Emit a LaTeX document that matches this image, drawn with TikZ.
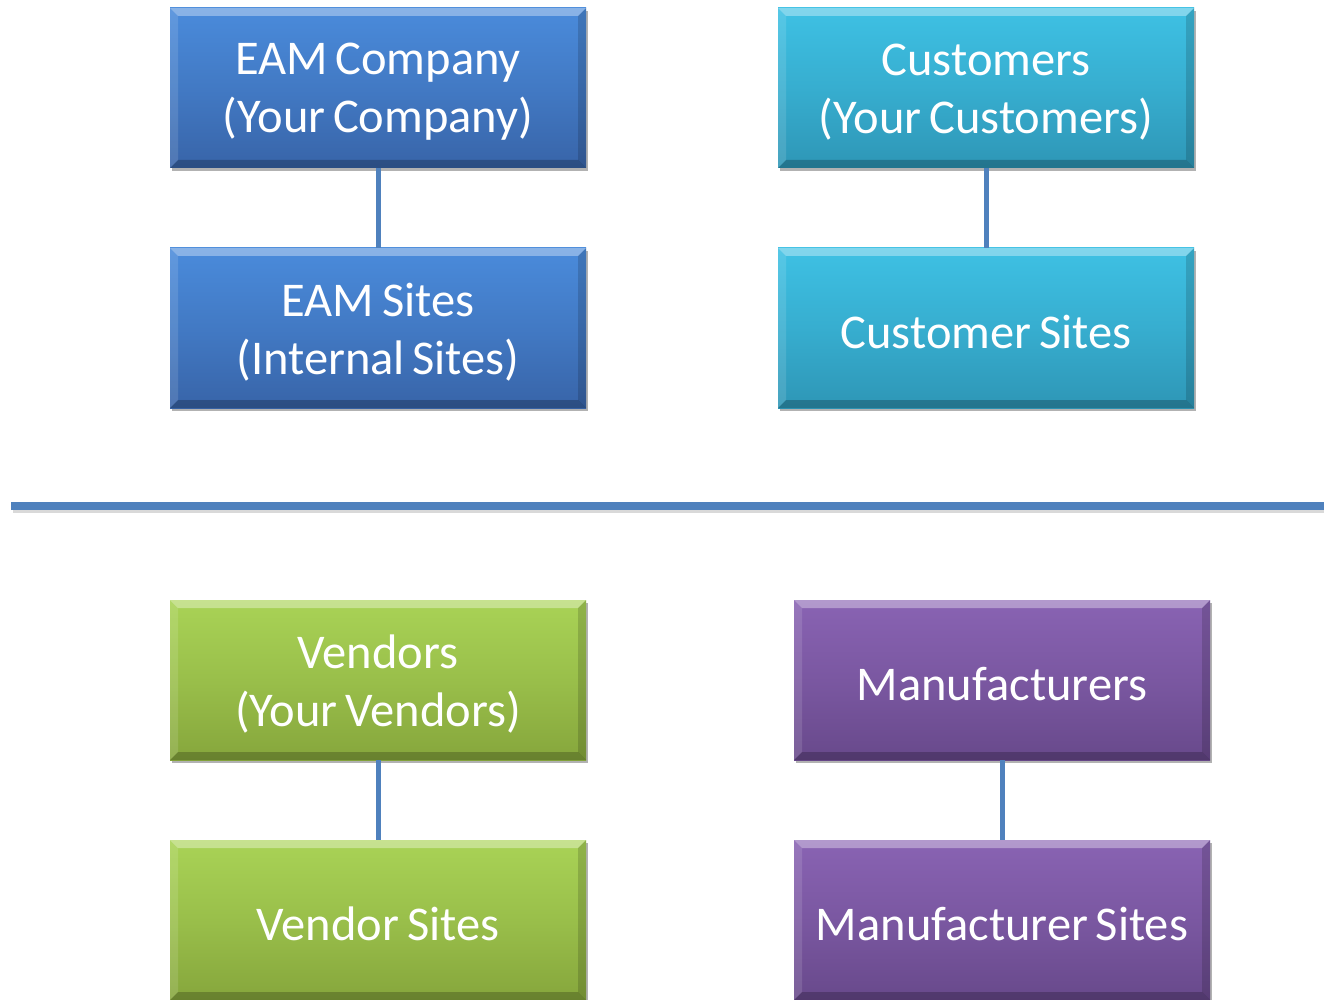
\documentclass[tikz,border=0pt]{standalone}
\usepackage{fontspec}
\setmainfont{Carlito}[WordSpace=0.7]
\usetikzlibrary{shadows}
\definecolor{linkblue}{RGB}{79,129,189}
\definecolor{blueT}{RGB}{74,139,219}
\definecolor{blueB}{RGB}{56,100,168}
\definecolor{cyanT}{RGB}{62,193,228}
\definecolor{cyanB}{RGB}{46,150,182}
\definecolor{greenT}{RGB}{169,211,86}
\definecolor{greenB}{RGB}{134,166,60}
\definecolor{purpT}{RGB}{137,99,179}
\definecolor{purpB}{RGB}{104,73,139}
\tikzset{
  boxtext/.style={align=center, text=white, inner sep=0pt, yshift=-4pt,
    font=\fontsize{48.5}{58}\selectfont},
  bevelbox/.style n args={3}{rectangle, minimum width=416pt, minimum height=160pt,
    inner sep=0pt,
    top color=#1, bottom color=#2, middle color=#1!55!#2,
    drop shadow={shadow xshift=2pt, shadow yshift=-3pt, opacity=0.3, fill=black},
    label={[boxtext]center:{#3}},
    path picture={
      \fill[white,opacity=0.35] (path picture bounding box.north west) -- (path picture bounding box.north east)
        -- ([xshift=-8pt,yshift=-8pt]path picture bounding box.north east) -- ([xshift=8pt,yshift=-8pt]path picture bounding box.north west) -- cycle;
      \fill[white,opacity=0.12] (path picture bounding box.north west) -- ([xshift=8pt,yshift=-8pt]path picture bounding box.north west)
        -- ([xshift=8pt,yshift=8pt]path picture bounding box.south west) -- (path picture bounding box.south west) -- cycle;
      \fill[black,opacity=0.15] (path picture bounding box.north east) -- ([xshift=-8pt,yshift=-8pt]path picture bounding box.north east)
        -- ([xshift=-8pt,yshift=8pt]path picture bounding box.south east) -- (path picture bounding box.south east) -- cycle;
      \fill[black,opacity=0.22] (path picture bounding box.south west) -- ([xshift=8pt,yshift=8pt]path picture bounding box.south west)
        -- ([xshift=-8pt,yshift=8pt]path picture bounding box.south east) -- (path picture bounding box.south east) -- cycle;
    }},
  conn/.style={draw=linkblue, line width=5pt},
  divider/.style={draw=linkblue, line width=8pt},
  dividershadow/.style={draw=black, opacity=0.15, line width=8pt}
}
\begin{document}
\begin{tikzpicture}[x=1pt,y=-1pt]
\useasboundingbox (0,0) rectangle (1324,1000);
\clip (0,0) rectangle (1324,1000);
\fill[white] (0,0) rectangle (1324,1000);

\node[bevelbox={blueT}{blueB}{EAM Company\\(Your Company)}] (eamc) at (378,88) {};
\node[bevelbox={blueT}{blueB}{EAM Sites\\(Internal Sites)}] (eams) at (378,328) {};
\node[bevelbox={cyanT}{cyanB}{Customers\\(Your Customers)}] (cust) at (986,88) {};
\node[bevelbox={cyanT}{cyanB}{Customer Sites}] (custs) at (986,328) {};
\node[bevelbox={greenT}{greenB}{Vendors\\(Your Vendors)}] (vend) at (378,680) {};
\node[bevelbox={greenT}{greenB}{Vendor Sites}] (vends) at (378,920) {};
\node[bevelbox={purpT}{purpB}{Manufacturers}] (manu) at (1002,680) {};
\node[bevelbox={purpT}{purpB}{Manufacturer Sites}] (manus) at (1002,920) {};

\draw[conn] (eamc.south) -- (eams.north);
\draw[conn] (cust.south) -- (custs.north);
\draw[conn] (vend.south) -- (vends.north);
\draw[conn] (manu.south) -- (manus.north);

\coordinate (hlA) at (11,506);
\coordinate (hlB) at (1330,506);
\coordinate (hsA) at (13,509);
\coordinate (hsB) at (1330,509);
\draw[dividershadow] (hsA) -- (hsB);
\draw[divider] (hlA) -- (hlB);
\end{tikzpicture}
\end{document}
